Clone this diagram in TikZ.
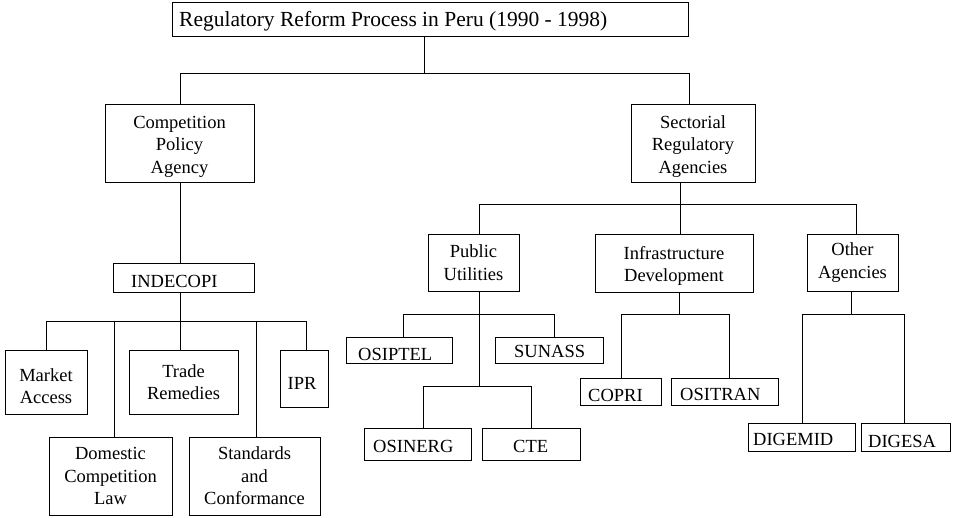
\documentclass[tikz,border=0pt]{standalone}
\usepackage{fontspec}
\setmainfont{Liberation Serif}
\begin{document}
\begin{tikzpicture}[x=1pt,y=-1pt,
  box/.style={draw, line width=0.9pt, inner sep=0pt, align=center, font=\fontsize{18.5}{22.5}\selectfont},
  txt/.style={inner sep=0pt, align=center, font=\fontsize{18.5}{22.5}\selectfont},
  lbl/.style={anchor=base west, inner sep=0pt, font=\fontsize{18.5}{22.5}\selectfont},
  link/.style={line width=0.9pt}]
\useasboundingbox (0,0) rectangle (953,518);
% level 0
\node[box, minimum width=516pt, minimum height=34pt] (title) at (430,19) {};
\node[lbl, font=\fontsize{21.5}{24}\selectfont] (title-t) at (179,26.5) {Regulatory Reform Process in Peru (1990 - 1998)};
% level 1
\node[box, minimum width=149pt, minimum height=78pt] (cpa) at (179.5,143) {};
\node[txt] (cpa-t) at (179.5,146.5) {Competition\\Policy\\Agency};
\node[box, minimum width=124pt, minimum height=78pt] (sra) at (693,143) {};
\node[txt] (sra-t) at (693,146.5) {Sectorial\\Regulatory\\Agencies};
% competition side
\node[box, minimum width=141pt, minimum height=29pt] (indecopi) at (183.5,277.5) {};
\node[lbl] (indecopi-t) at (131,288) {INDECOPI};
\node[box, minimum width=82pt, minimum height=64pt] (market) at (46,382) {};
\node[txt] (market-t) at (46,386) {Market\\Access};
\node[box, minimum width=109pt, minimum height=64pt] (trade) at (183.5,382) {Trade\\Remedies};
\node[box, minimum width=48pt, minimum height=57pt] (ipr) at (304,378.5) {};
\node[lbl] (ipr-t) at (287.5,390) {IPR};
\node[box, minimum width=123pt, minimum height=78pt] (domestic) at (110.5,476) {Domestic\\Competition\\Law};
\node[box, minimum width=131pt, minimum height=78pt] (standards) at (254.5,476) {Standards\\and\\Conformance};
% sectorial side
\node[box, minimum width=91pt, minimum height=57pt] (public) at (473.5,262.5) {Public\\Utilities};
\node[box, minimum width=158pt, minimum height=58pt] (infra) at (674,263) {};
\node[txt] (infra-t) at (674,266) {Infrastructure\\Development};
\node[box, minimum width=91pt, minimum height=57pt] (other) at (852.5,262.5) {Other\\Agencies};
\node[box, minimum width=106pt, minimum height=26pt] (osiptel) at (399,350) {};
\node[lbl] (osiptel-t) at (358,361) {OSIPTEL};
\node[box, minimum width=108pt, minimum height=26pt] (sunass) at (549,350) {};
\node[lbl] (sunass-t) at (514,357.5) {SUNASS};
\node[box, minimum width=107pt, minimum height=32pt] (osinerg) at (417.5,444) {};
\node[lbl] (osinerg-t) at (373,452) {OSINERG};
\node[box, minimum width=98pt, minimum height=32pt] (cte) at (531,444) {};
\node[lbl] (cte-t) at (513,452) {CTE};
\node[box, minimum width=81pt, minimum height=27pt] (copri) at (620.5,391.5) {};
\node[lbl] (copri-t) at (588,402) {COPRI};
\node[box, minimum width=107pt, minimum height=27pt] (ositran) at (724.5,391.5) {};
\node[lbl] (ositran-t) at (680,401) {OSITRAN};
\node[box, minimum width=107pt, minimum height=28pt] (digemid) at (801.5,437) {};
\node[lbl] (digemid-t) at (753,445) {DIGEMID};
\node[box, minimum width=89pt, minimum height=28pt] (digesa) at (905.5,437) {};
\node[lbl] (digesa-t) at (868,447) {DIGESA};
% junctions
\coordinate (j0) at (424,73);
\coordinate (jL) at (180,73);
\coordinate (jR) at (689,73);
\coordinate (k0) at (180,321);
\coordinate (k1) at (46,321);
\coordinate (k2) at (114,321);
\coordinate (k4) at (256,321);
\coordinate (k5) at (306,321);
\coordinate (s0) at (680,204);
\coordinate (s1) at (479,204);
\coordinate (s3) at (856,204);
\coordinate (p0) at (479,314);
\coordinate (p1) at (403,314);
\coordinate (p2) at (554,314);
\coordinate (p3) at (479,386);
\coordinate (p4) at (423,386);
\coordinate (p5) at (531,386);
\coordinate (i0) at (679,314);
\coordinate (i1) at (621,314);
\coordinate (i2) at (729,314);
\coordinate (o0) at (851,314);
\coordinate (o1) at (802,314);
\coordinate (o2) at (904,314);
% connectors
\draw[link] (title.south -| j0) -- (j0);
\draw[link] (jL) -- (jR);
\draw[link] (jL) -- (cpa.north -| jL);
\draw[link] (jR) -- (sra.north -| jR);
\draw[link] (cpa.south -| jL) -- (indecopi.north -| jL);
\draw[link] (indecopi.south -| k0) -- (k0);
\draw[link] (k1) -- (k5);
\draw[link] (k1) -- (market.north -| k1);
\draw[link] (k2) -- (domestic.north -| k2);
\draw[link] (k0) -- (trade.north -| k0);
\draw[link] (k4) -- (standards.north -| k4);
\draw[link] (k5) -- (ipr.north -| k5);
\draw[link] (sra.south -| s0) -- (s0);
\draw[link] (s1) -- (s3);
\draw[link] (s1) -- (public.north -| s1);
\draw[link] (s0) -- (infra.north -| s0);
\draw[link] (s3) -- (other.north -| s3);
\draw[link] (public.south -| p0) -- (p3);
\draw[link] (p1) -- (p2);
\draw[link] (p1) -- (osiptel.north -| p1);
\draw[link] (p2) -- (sunass.north -| p2);
\draw[link] (p4) -- (p5);
\draw[link] (p4) -- (osinerg.north -| p4);
\draw[link] (p5) -- (cte.north -| p5);
\draw[link] (infra.south -| i0) -- (i0);
\draw[link] (i1) -- (i2);
\draw[link] (i1) -- (copri.north -| i1);
\draw[link] (i2) -- (ositran.north -| i2);
\draw[link] (other.south -| o0) -- (o0);
\draw[link] (o1) -- (o2);
\draw[link] (o1) -- (digemid.north -| o1);
\draw[link] (o2) -- (digesa.north -| o2);
\end{tikzpicture}
\end{document}
